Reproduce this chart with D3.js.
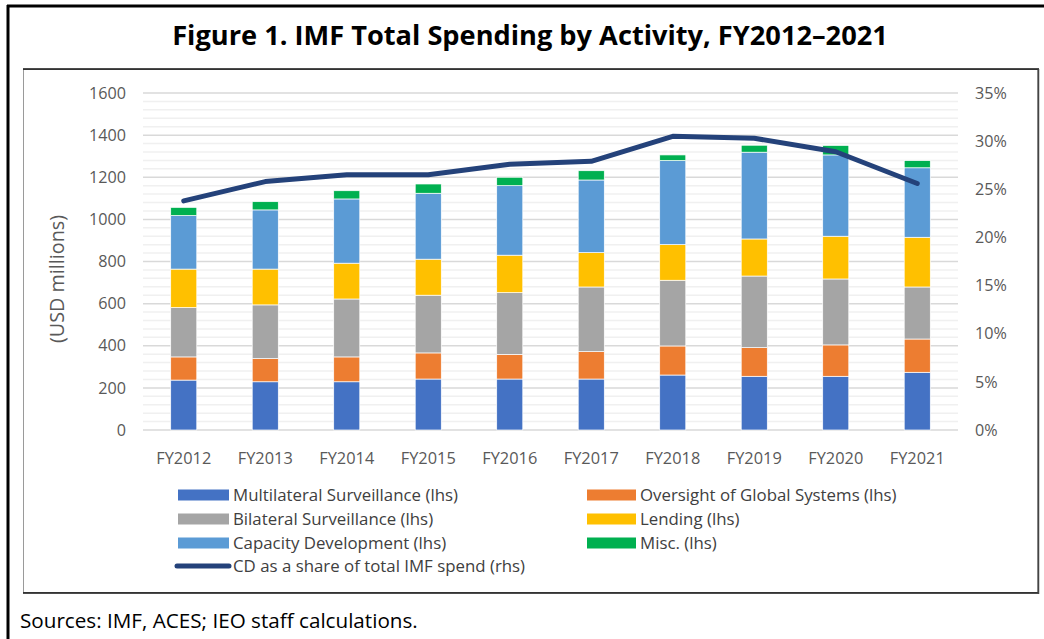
<!DOCTYPE html>
<html lang="en">
<head>
  <meta charset="UTF-8">
  <title>IMF Total Spending by Activity</title>
  <script src="https://d3js.org/d3.v7.min.js"></script>
  <style>
    body { margin: 0; background: #fff; }
    text { font-family: "Open Sans", "Noto Sans", sans-serif; }
  </style>
</head>
<body>
<div id="chart"></div>
<script>
  // chart data
  var years = ["FY2012", "FY2013", "FY2014", "FY2015", "FY2016", "FY2017", "FY2018", "FY2019", "FY2020", "FY2021"];
  var multilateral = [237, 229, 229, 242, 242, 242, 261, 255, 255, 274];
  var oversight    = [110, 110, 118, 124, 117, 130, 138, 136, 149, 158];
  var bilateral    = [234, 255, 275, 274, 293, 307, 312, 340, 313, 247];
  var lending      = [183, 170, 170, 171, 178, 163, 169, 176, 203, 236];
  var capacity     = [254, 281, 305, 313, 330, 345, 399, 412, 386, 330];
  var misc         = [39, 39, 39, 44, 40, 44, 27, 33, 45, 34];
  var cdShare      = [23.8, 25.8, 26.5, 26.5, 27.6, 27.9, 30.5, 30.3, 28.9, 25.6];

  var leftTicks = [0, 200, 400, 600, 800, 1000, 1200, 1400, 1600];
  var rightTicks = [0, 5, 10, 15, 20, 25, 30, 35];

  var seriesNames = ["Multilateral Surveillance (lhs)", "Oversight of Global Systems (lhs)",
    "Bilateral Surveillance (lhs)", "Lending (lhs)", "Capacity Development (lhs)", "Misc. (lhs)"];
  var seriesColors = ["#4472C4", "#ED7D31", "#A5A5A5", "#FFC000", "#5B9BD5", "#00B050"];
  var lineName = "CD as a share of total IMF spend (rhs)";
  var lineColor = "#24427a";

  var W = 1044, H = 639;

  var svg = d3.select("#chart")
    .append("svg")
      .attr("width", W)
      .attr("height", H);

  // pick a font size so that a sample string has the wanted width
  function fitSize(str, target, weight) {
    var t = svg.append("text").attr("font-size", 20).attr("font-weight", weight || "normal").text(str);
    var w = t.node().getComputedTextLength();
    t.remove();
    return 20 * target / w;
  }

  // frame lines (left and top of the outer box, and the inner chart box)
  svg.append("line").attr("x1", 8).attr("x2", 8).attr("y1", 5).attr("y2", H).attr("stroke", "#000").attr("stroke-width", 3);
  svg.append("line").attr("x1", 7).attr("x2", W).attr("y1", 6).attr("y2", 6).attr("stroke", "#000").attr("stroke-width", 3);

  svg.append("rect")
    .attr("x", 23.5).attr("y", 69.5).attr("width", 1014).attr("height", 523)
    .attr("fill", "none").attr("stroke", "#9a9a9a").attr("stroke-width", 1);
  svg.append("line").attr("x1", 23).attr("x2", 1039).attr("y1", 69).attr("y2", 69).attr("stroke", "#111").attr("stroke-width", 1.5);
  svg.append("line").attr("x1", 23).attr("x2", 1039).attr("y1", 593).attr("y2", 593).attr("stroke", "#111").attr("stroke-width", 1.5);
  svg.append("line").attr("x1", 1038.5).attr("x2", 1038.5).attr("y1", 69).attr("y2", 594).attr("stroke", "#444").attr("stroke-width", 1.5);

  // title
  var titleText = "Figure 1. IMF Total Spending by Activity, FY2012\u20132021";
  svg.append("text")
    .attr("x", 530).attr("y", 45)
    .attr("text-anchor", "middle")
    .attr("font-weight", "bold")
    .attr("font-size", fitSize(titleText, 716, "bold"))
    .attr("fill", "#000")
    .text(titleText);

  // scales
  var x = d3.scaleBand()
    .domain(years)
    .range([143, 958])
    .paddingInner(0.68)
    .paddingOuter(0.34);

  var y = d3.scaleLinear().domain([0, 1600]).range([430, 93]);
  var y2 = d3.scaleLinear().domain([0, 35]).range([430, 93]);

  // gridlines: light minor every 40, darker major every 200
  svg.append("g")
    .selectAll("line")
    .data(d3.range(0, 1601, 40).filter(function(v) { return v % 200 != 0; }))
    .enter()
    .append("line")
      .attr("x1", 143).attr("x2", 958)
      .attr("y1", function(d) { return y(d); })
      .attr("y2", function(d) { return y(d); })
      .attr("stroke", "#f0f0f0")
      .attr("stroke-width", 1.5);

  svg.append("g")
    .selectAll("line")
    .data(leftTicks)
    .enter()
    .append("line")
      .attr("x1", 143).attr("x2", 958)
      .attr("y1", function(d) { return y(d); })
      .attr("y2", function(d) { return y(d); })
      .attr("stroke", "#d9d9d9")
      .attr("stroke-width", 1.5);

  // axes
  var tickSize = fitSize("1600", 37);

  var leftAxis = svg.append("g")
    .attr("transform", "translate(143,0)")
    .call(d3.axisLeft(y).tickValues(leftTicks).tickSize(0).tickPadding(17).tickFormat(d3.format("d")));
  leftAxis.select(".domain").remove();
  leftAxis.selectAll("text")
    .attr("font-family", "Open Sans")
    .attr("font-size", tickSize)
    .attr("fill", "#595959");

  var rightAxis = svg.append("g")
    .attr("transform", "translate(958,0)")
    .call(d3.axisRight(y2).tickValues(rightTicks).tickSize(0).tickPadding(17)
      .tickFormat(function(d) { return d + "%"; }));
  rightAxis.select(".domain").remove();
  rightAxis.selectAll("text")
    .attr("font-family", "Open Sans")
    .attr("font-size", tickSize)
    .attr("fill", "#595959");

  var bottomAxis = svg.append("g")
    .attr("transform", "translate(0,430)")
    .call(d3.axisBottom(x).tickSize(0).tickPadding(22));
  bottomAxis.select(".domain").remove();
  bottomAxis.selectAll("text")
    .attr("font-family", "Open Sans")
    .attr("font-size", fitSize("FY2012", 55))
    .attr("fill", "#595959");

  // y axis title
  svg.append("text")
    .attr("transform", "translate(64,279) rotate(-90)")
    .attr("text-anchor", "middle")
    .attr("font-size", fitSize("(USD millions)", 128))
    .attr("fill", "#595959")
    .text("(USD millions)");

  // stacked bars
  var table = years.map(function(yr, i) {
    return { year: yr, s0: multilateral[i], s1: oversight[i], s2: bilateral[i],
             s3: lending[i], s4: capacity[i], s5: misc[i] };
  });
  var keys = ["s0", "s1", "s2", "s3", "s4", "s5"];
  var stacked = d3.stack().keys(keys)(table);

  svg.append("g")
    .selectAll("g")
    .data(stacked)
    .enter()
    .append("g")
      .attr("fill", function(d, i) { return seriesColors[i]; })
    .selectAll("rect")
    .data(function(d) { return d; })
    .enter()
    .append("rect")
      .attr("x", function(d) { return x(d.data.year); })
      .attr("y", function(d) { return y(d[1]); })
      .attr("width", x.bandwidth())
      .attr("height", function(d) { return y(d[0]) - y(d[1]); })
      .attr("stroke", "#fff")
      .attr("stroke-width", 0.7);

  // CD share line on the right axis
  var line = d3.line()
    .x(function(d, i) { return x(years[i]) + x.bandwidth() / 2; })
    .y(function(d) { return y2(d); });

  svg.append("path")
    .datum(cdShare)
    .attr("d", line)
    .attr("fill", "none")
    .attr("stroke", lineColor)
    .attr("stroke-width", 5)
    .attr("stroke-linecap", "round")
    .attr("stroke-linejoin", "round");

  // legend
  var legendSize = fitSize("Multilateral Surveillance (lhs)", 225);
  var rowY = [495, 519, 543, 566];
  var legend = svg.append("g");

  seriesNames.forEach(function(name, i) {
    var col = i % 2, row = Math.floor(i / 2);
    var sx = col == 0 ? 178 : 587;
    legend.append("rect")
      .attr("x", sx).attr("y", rowY[row] - 5.5)
      .attr("width", col == 0 ? 51 : 49).attr("height", 11)
      .attr("fill", seriesColors[i]);
    legend.append("text")
      .attr("x", col == 0 ? 233 : 640).attr("y", rowY[row])
      .attr("dy", "0.35em")
      .attr("font-size", legendSize)
      .attr("fill", "#404040")
      .text(name);
  });

  legend.append("line")
    .attr("x1", 177).attr("x2", 229)
    .attr("y1", rowY[3]).attr("y2", rowY[3])
    .attr("stroke", lineColor)
    .attr("stroke-width", 5)
    .attr("stroke-linecap", "round");
  legend.append("text")
    .attr("x", 233).attr("y", rowY[3])
    .attr("dy", "0.35em")
    .attr("font-size", legendSize)
    .attr("fill", "#404040")
    .text(lineName);

  // footer
  var sourceText = "Sources: IMF, ACES; IEO staff calculations.";
  svg.append("text")
    .attr("x", 20).attr("y", 628)
    .attr("font-size", fitSize(sourceText, 398))
    .attr("fill", "#000")
    .text(sourceText);
</script>
</body>
</html>
